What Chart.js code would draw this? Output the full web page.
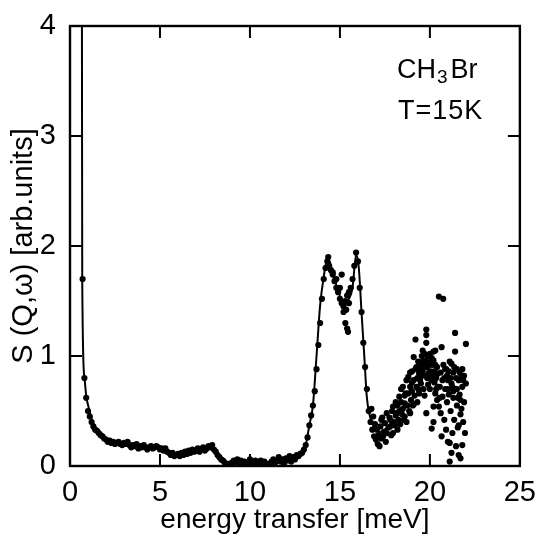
<!DOCTYPE html>
<html>
<head>
<meta charset="utf-8">
<script src="https://cdn.jsdelivr.net/npm/chart.js@4.4.1/dist/chart.umd.min.js"></script>
<style>
  html, body { margin: 0; padding: 0; background: #fff; }
  #box { width: 538px; height: 535px; }
</style>
</head>
<body>
<div id="box"><canvas id="sqw"></canvas></div>
<script>
// tick positions for the inner tick marks
var xTicks = [5, 10, 15, 20];
var yTicks = [1, 2, 3];

// fitted curve through the data (energy in meV, S in arb. units)
var fitE = [0.66, 0.68, 0.8, 0.9, 1.07, 1.3, 1.7, 2.3, 3.0, 4.0, 5.0, 5.6, 6.0, 6.6, 7.2, 7.9, 8.3, 8.9,
            9.5, 10.5, 11.2, 12.0, 12.5, 12.8, 13.1, 13.3, 13.5, 13.7, 13.9, 14.1, 14.3, 14.45, 14.6,
            14.9, 15.2, 15.5, 15.7, 15.9, 16.05, 16.2, 16.35, 16.5, 16.85, 17.2, 17.8];
var fitS = [4.6, 1.7, 0.81, 0.64, 0.51, 0.38, 0.30, 0.22, 0.21, 0.18, 0.16, 0.11, 0.10, 0.12, 0.14, 0.18, 0.08, 0.01,
            0.03, 0.03, 0.02, 0.05, 0.08, 0.10, 0.19, 0.37, 0.55, 1.00, 1.46, 1.72, 1.88, 1.85, 1.74,
            1.60, 1.46, 1.52, 1.62, 1.92, 1.80, 1.40, 1.01, 0.62, 0.37, 0.31, 0.37];

// measured points below 17 meV
var lowE = [0.7, 0.8, 0.9, 1.0, 1.1, 1.2, 1.3, 1.4, 1.5, 1.6, 1.7, 1.8, 1.9, 2.0, 2.1, 2.2, 2.3, 2.4, 2.5, 2.6,
            2.7, 2.8, 2.9, 3.0, 3.1, 3.2, 3.3, 3.4, 3.5, 3.6, 3.7, 3.8, 3.9, 4.0, 4.1, 4.2, 4.3, 4.4, 4.5, 4.6,
            4.7, 4.8, 4.9, 5.0, 5.1, 5.2, 5.3, 5.4, 5.5, 5.6, 5.7, 5.8, 5.9, 6.0, 6.1, 6.2, 6.3, 6.4, 6.5, 6.6,
            6.7, 6.8, 6.9, 7.0, 7.1, 7.2, 7.3, 7.4, 7.5, 7.6, 7.7, 7.8, 7.9, 8.0, 8.1, 8.2, 8.3, 8.4, 8.5, 8.6,
            8.7, 8.8, 8.9, 9.0, 9.1, 9.2, 9.3, 9.4, 9.5, 9.6, 9.7, 9.8, 9.9, 10.0, 10.1, 10.2, 10.3, 10.4, 10.5, 10.6,
            10.7, 10.8, 10.9, 11.0, 11.1, 11.2, 11.3, 11.4, 11.5, 11.6, 11.7, 11.8, 11.9, 12.0, 12.1, 12.2, 12.3, 12.4, 12.5, 12.6,
            12.7, 12.8, 12.9, 13.0, 13.1, 13.2, 13.3, 13.4, 13.5, 13.6, 13.7, 13.8, 13.9, 14.0, 14.1, 14.2, 14.3, 14.35, 14.4, 14.5,
            14.6, 14.7, 14.8, 14.9, 15.0, 15.1, 15.2, 15.3, 15.4, 15.5, 15.6, 15.7, 15.8, 15.9, 16.0, 16.1, 16.2, 16.3, 16.4, 16.5,
            14.6, 14.8, 14.9, 15.0, 15.1, 15.2, 15.3, 15.35, 15.4, 15.45, 15.5];
var lowS = [1.70, 0.80, 0.62, 0.50, 0.45, 0.40, 0.36, 0.33, 0.32, 0.30, 0.28, 0.27, 0.25, 0.24, 0.22, 0.23, 0.21, 0.22, 0.20, 0.21,
            0.22, 0.20, 0.19, 0.21, 0.20, 0.22, 0.19, 0.17, 0.19, 0.18, 0.20, 0.16, 0.18, 0.17, 0.19, 0.17, 0.15, 0.17, 0.18, 0.16,
            0.17, 0.18, 0.17, 0.15, 0.16, 0.14, 0.16, 0.13, 0.12, 0.10, 0.12, 0.09, 0.10, 0.11, 0.09, 0.12, 0.10, 0.13, 0.11, 0.14,
            0.12, 0.15, 0.13, 0.14, 0.16, 0.13, 0.15, 0.17, 0.14, 0.16, 0.18, 0.17, 0.19, 0.15, 0.13, 0.10, 0.08, 0.06, 0.05, 0.03,
            0.01, 0.02, 0.00, 0.03, 0.05, 0.04, 0.06, 0.03, 0.05, 0.02, 0.04, 0.01, 0.03, 0.06, 0.02, 0.04, 0.05, 0.01, 0.03, 0.05,
            0.02, 0.04, 0.00, 0.02, 0.01, 0.04, 0.06, 0.03, 0.05, 0.08, 0.04, 0.06, 0.02, 0.07, 0.05, 0.09, 0.04, 0.08, 0.06, 0.10,
            0.09, 0.11, 0.12, 0.15, 0.19, 0.26, 0.37, 0.46, 0.55, 0.68, 0.88, 1.10, 1.30, 1.52, 1.70, 1.80, 1.86, 1.90, 1.82, 1.78,
            1.74, 1.68, 1.62, 1.60, 1.52, 1.48, 1.45, 1.50, 1.55, 1.58, 1.62, 1.70, 1.82, 1.94, 1.86, 1.62, 1.40, 1.12, 0.90, 0.70,
            1.76, 1.70, 1.58, 1.62, 1.74, 1.40, 1.30, 1.42, 1.25, 1.22, 1.48];

// measured points above 16.5 meV (wide scatter)
var highE = [16.6, 16.7, 16.75, 16.8, 16.85, 16.9, 16.95, 17.0, 17.05, 17.1, 17.15, 17.2, 17.25, 17.3, 17.35, 17.4, 17.45, 17.5, 17.55, 17.6,
             17.6, 17.7, 17.75, 17.8, 17.8, 17.85, 17.9, 17.95, 17.95, 18.0, 18.05, 18.1, 18.15, 18.2, 18.2, 18.25, 18.3, 18.3, 18.35, 18.4,
             18.45, 18.5, 18.5, 18.55, 18.6, 18.6, 18.65, 18.7, 18.7, 18.75, 18.8, 18.8, 18.85, 18.9, 18.9, 18.95, 19.0, 19.0, 19.05, 19.1,
             19.1, 19.15, 19.2, 19.2, 19.25, 19.25, 19.3, 19.35, 19.4, 19.4, 19.45, 19.5, 19.5, 19.55, 19.6, 19.6, 19.65, 19.7, 19.7, 19.75,
             19.8, 19.8, 19.8, 19.8, 19.85, 19.9, 19.9, 19.95, 20.0, 20.0, 20.0, 20.05, 20.1, 20.1, 20.15, 20.2, 20.2, 20.2, 20.2, 20.25,
             20.3, 20.3, 20.35, 20.4, 20.4, 20.45, 20.5, 20.5, 20.55, 20.6, 20.6, 20.65, 20.65, 20.7, 20.74, 20.75, 20.8, 20.8, 20.85, 20.9,
             20.9, 20.95, 21.0, 21.0, 21.05, 21.1, 21.1, 21.1, 21.15, 21.2, 21.2, 21.2, 21.25, 21.3, 21.3, 21.35, 21.4, 21.4, 21.4, 21.45,
             21.5, 21.5, 21.55, 21.6, 21.6, 21.6, 21.65, 21.7, 21.7, 21.7, 21.75, 21.8, 21.8, 21.85, 21.9, 21.9, 21.95, 22.0, 22.0,
             19.3, 19.35, 19.45, 19.55, 19.6, 19.65, 19.7, 19.75, 19.85, 19.9, 19.95, 20.0, 20.05, 20.1, 20.15, 20.25, 20.3, 20.35, 20.45, 20.55,
             20.7, 20.85, 20.95, 21.0, 21.05, 21.15, 21.25, 21.3, 21.35, 21.45, 21.5, 21.55, 21.65, 21.75, 21.8, 21.85, 18.4, 18.6, 18.9, 19.0,
             19.1, 17.3, 17.9, 18.1];
var highS = [0.50, 0.40, 0.52, 0.33, 0.45, 0.27, 0.38, 0.24, 0.33, 0.20, 0.28, 0.18, 0.36, 0.25, 0.44, 0.27, 0.31, 0.39, 0.22, 0.48,
             0.30, 0.35, 0.44, 0.42, 0.36, 0.28, 0.50, 0.30, 0.54, 0.40, 0.37, 0.46, 0.48, 0.55, 0.33, 0.42, 0.63, 0.50, 0.38, 0.58,
             0.47, 0.72, 0.52, 0.42, 0.57, 0.45, 0.66, 0.40, 0.78, 0.55, 0.66, 0.81, 0.50, 0.72, 0.48, 0.60, 0.86, 0.68, 0.55, 0.99,
             0.78, 0.64, 1.15, 0.88, 0.90, 0.72, 0.58, 0.95, 0.84, 0.66, 0.78, 0.75, 0.92, 1.00, 1.05, 0.86, 0.70, 0.64, 0.94, 0.82,
             1.24, 1.19, 1.12, 0.48, 0.90, 0.74, 1.00, 0.85, 1.02, 0.84, 0.70, 0.95, 0.34, 0.78, 0.92, 0.96, 1.04, 0.54, 0.40, 0.86,
             1.05, 0.66, 0.80, 0.90, 0.60, 0.72, 0.54, 1.54, 0.72, 0.85, 0.48, 1.08, 0.27, 0.63, 1.52, 0.92, 0.80, 0.42, 0.70, 0.33,
             0.88, 0.58, 0.78, 0.22, 0.65, 0.95, 0.21, 0.04, 0.50, 0.93, 0.75, 0.12, 0.30, 0.62, 0.85, 0.42, 1.21, 1.04, 0.70, 0.18,
             0.88, 0.55, 0.35, 0.78, 0.37, 0.10, 0.65, 0.60, 0.47, 0.07, 0.82, 0.19, 0.72, 0.40, 0.82, 0.58, 0.30, 1.11, 0.75,
             0.80, 0.70, 0.88, 0.82, 0.95, 0.90, 1.02, 0.96, 0.80, 0.92, 1.00, 0.92, 0.86, 0.98, 0.82, 0.76, 0.92, 0.70, 0.84, 0.62,
             0.78, 0.88, 0.82, 0.70, 0.86, 0.80, 0.72, 0.68, 0.90, 0.80, 0.70, 0.62, 0.85, 0.52, 0.88, 0.78, 0.70, 0.64, 0.85, 0.76,
             0.56, 0.42, 0.40, 0.58];

function pairs(xs, ys) {
  var out = [];
  for (var i = 0; i < xs.length; i++) {
    out.push({x: xs[i], y: ys[i]});
  }
  return out;
}

var labelFont = "'Liberation Sans', 'DejaVu Sans', sans-serif";

// frame, inward ticks and the sample label
var framePlugin = {
  id: 'framePlugin',
  afterDatasetsDraw: function(chart) {
    var ctx = chart.ctx;
    var a = chart.chartArea;
    var xs = chart.scales.x;
    var ys = chart.scales.y;
    ctx.save();
    ctx.strokeStyle = '#000';
    ctx.lineWidth = 2.4;
    ctx.strokeRect(a.left, a.top, a.right - a.left, a.bottom - a.top);

    ctx.lineWidth = 2;
    ctx.beginPath();
    xTicks.forEach(function(v) {
      var px = xs.getPixelForValue(v);
      ctx.moveTo(px, a.bottom); ctx.lineTo(px, a.bottom - 12);
      ctx.moveTo(px, a.top); ctx.lineTo(px, a.top + 12);
    });
    yTicks.forEach(function(v) {
      var py = ys.getPixelForValue(v);
      ctx.moveTo(a.left, py); ctx.lineTo(a.left + 12, py);
      ctx.moveTo(a.right, py); ctx.lineTo(a.right - 12, py);
    });
    ctx.stroke();

    // CH3Br / T=15K
    ctx.fillStyle = '#000';
    ctx.textBaseline = 'alphabetic';
    ctx.font = '27px ' + labelFont;
    var x0 = 397, y0 = 78;
    ctx.fillText('CH', x0, y0);
    var w = ctx.measureText('CH').width;
    ctx.font = '19px ' + labelFont;
    ctx.fillText('3', x0 + w + 1, y0 + 5);
    var w3 = ctx.measureText('3').width;
    ctx.font = '27px ' + labelFont;
    ctx.fillText('Br', x0 + w + w3 + 4, y0);
    ctx.letterSpacing = '1px';
    ctx.fillText('T=15K', 398, 119);
    ctx.restore();
  }
};

var ctx = document.getElementById('sqw');
var sqwChart = new Chart(ctx, {
  type: 'scatter',
  data: {
    datasets: [
      {
        data: pairs(fitE, fitS),
        showLine: true,
        borderColor: '#000',
        borderWidth: 2,
        pointRadius: 0,
        cubicInterpolationMode: 'monotone'
      },
      {
        data: pairs(lowE, lowS),
        pointRadius: 3.1,
        backgroundColor: '#000',
        borderWidth: 0
      },
      {
        data: pairs(highE, highS),
        pointRadius: 3.1,
        backgroundColor: '#000',
        borderWidth: 0
      }
    ]
  },
  options: {
    responsive: true,
    maintainAspectRatio: false,
    animation: false,
    layout: { padding: { top: 26, right: 18, left: 0, bottom: 0 } },
    plugins: {
      legend: { display: false },
      tooltip: { enabled: false }
    },
    scales: {
      x: {
        type: 'linear',
        min: 0,
        max: 25,
        grid: { display: false },
        border: { display: false },
        ticks: {
          stepSize: 5,
          padding: 2,
          color: '#000',
          font: { family: labelFont, size: 29 }
        },
        title: {
          display: true,
          text: 'energy transfer [meV]',
          color: '#000',
          font: { family: labelFont, size: 28 },
          padding: { top: 0, bottom: -2 }
        },
        afterFit: function(s) { s.height = 69; }
      },
      y: {
        min: 0,
        max: 4,
        grid: { display: false },
        border: { display: false },
        ticks: {
          stepSize: 1,
          padding: 6,
          color: '#000',
          font: { family: labelFont, size: 29 }
        },
        title: {
          display: true,
          text: 'S (Q,ω) [arb.units]',
          color: '#000',
          font: { family: labelFont, size: 29 },
          padding: { top: 7, bottom: 0 }
        },
        afterFit: function(s) { s.width = 70; }
      }
    }
  },
  plugins: [framePlugin]
});
</script>
</body>
</html>
